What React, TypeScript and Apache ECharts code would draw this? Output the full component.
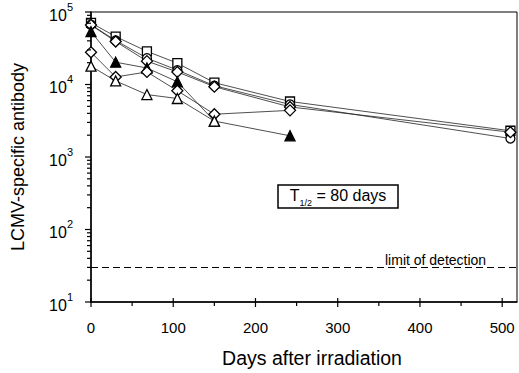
import React, { useEffect, useRef } from 'react';
import * as echarts from 'echarts';

const days = [0, 30, 68, 105, 150, 242, 510];
const openSquare = [71000, 45800, 28700, 19700, 10600, 5830, 2300];
const openCircle = [66700, 40400, 23100, 15800, 9620, 5310, 1800];
const openDiamondHigh = [66000, 39200, 21000, 14900, 9330, 4900, 2200];
const filledTriangle = [53500, 20300, 16900, 10900, 3130, 1960];
const openDiamondLow = [27800, 12700, 14900, 8220, 3890, 4400];
const openTriangle = [17900, 11200, 7260, 6410, 3130];
const detectionLimit = 30;

const xMajorTicks = [0, 100, 200, 300, 400, 500];
const xMinorTicks = [50, 150, 250, 350, 450];
const yMajorTicks = [10, 100, 1000, 10000, 100000];
const yMantissas = [2, 3, 4, 5, 6, 7, 8, 9];
const yDecades = [10, 100, 1000, 10000];

const FONT = '"Liberation Sans", Arial, Helvetica, sans-serif';

function zip(vals: number[]) {
  return vals.map((v, i) => [days[i], v]);
}

function mkSeries(name: string, vals: number[], symbol: string, size: number, filled: boolean) {
  return {
    name,
    type: 'line',
    data: zip(vals),
    symbol,
    symbolSize: size,
    showAllSymbol: true,
    z: 3,
    lineStyle: { color: '#222', width: 0.8 },
    itemStyle: { color: filled ? '#000' : '#fff', borderColor: '#000', borderWidth: 1.3 },
    emphasis: { disabled: true },
  };
}

function tickSeries(data: number[][], kind: 'xMajor' | 'xMinor' | 'yMajor' | 'yMinor') {
  return {
    type: 'custom',
    silent: true,
    clip: false,
    z: 6,
    data,
    encode: { x: 0, y: 1 },
    renderItem: (_params: any, api: any) => {
      const p = api.coord([api.value(0), api.value(1)]);
      let shape;
      if (kind === 'xMajor') shape = { x1: p[0], y1: p[1] - 4, x2: p[0], y2: p[1] + 5 };
      else if (kind === 'xMinor') shape = { x1: p[0], y1: p[1], x2: p[0], y2: p[1] + 4 };
      else if (kind === 'yMajor') shape = { x1: p[0] - 6, y1: p[1], x2: p[0], y2: p[1] };
      else shape = { x1: p[0] - 4, y1: p[1], x2: p[0], y2: p[1] };
      return { type: 'line', shape, style: { stroke: '#000', lineWidth: 1.2 } };
    },
  };
}

export default function App() {
  const ref = useRef<HTMLDivElement>(null);
  useEffect(() => {
    const chart = echarts.init(ref.current!, null, { renderer: 'svg' });
    const yMinor: number[][] = [];
    yDecades.forEach((d) => yMantissas.forEach((m) => yMinor.push([0, d * m])));
    const option: any = {
      animation: false,
      backgroundColor: '#fff',
      textStyle: { fontFamily: FONT },
      grid: { left: 91, right: 2, top: 12, bottom: 66, show: true, borderColor: '#000', borderWidth: 1 },
      xAxis: {
        type: 'value',
        min: 0,
        max: 518,
        interval: 100,
        name: 'Days after irradiation',
        nameLocation: 'middle',
        nameGap: 46,
        nameTextStyle: { fontSize: 19.5, color: '#000', fontFamily: FONT, padding: [0, 0, 0, 16] },
        axisLine: { lineStyle: { color: '#000', width: 1.5 } },
        axisTick: { show: false },
        splitLine: { show: false },
        axisLabel: { color: '#000', fontSize: 15, margin: 18, fontFamily: FONT, showMaxLabel: false },
      },
      yAxis: {
        type: 'log',
        logBase: 10,
        min: 10,
        max: 100000,
        name: 'LCMV-specific antibody',
        nameLocation: 'middle',
        nameGap: 64,
        nameTextStyle: { fontSize: 18, color: '#000', fontFamily: FONT },
        axisLine: { show: true, lineStyle: { color: '#000', width: 1.5 } },
        axisTick: { show: false },
        splitLine: { show: false },
        axisLabel: {
          margin: 18,
          formatter: (v: number) => `{b|10}{s|${Math.round(Math.log10(v))}}`,
          rich: {
            b: { fontSize: 16, color: '#000', fontFamily: FONT, padding: [6, 0, 0, 0] },
            s: { fontSize: 11, color: '#000', fontFamily: FONT, verticalAlign: 'top' },
          },
        },
      },
      series: [
        mkSeries('square', openSquare, 'rect', 9, false),
        mkSeries('circle', openCircle, 'circle', 9, false),
        mkSeries('diamondHigh', openDiamondHigh, 'diamond', 11, false),
        mkSeries('filledTriangle', filledTriangle, 'triangle', 10, true),
        mkSeries('diamondLow', openDiamondLow, 'diamond', 11, false),
        mkSeries('openTriangle', openTriangle, 'triangle', 10, false),
        {
          type: 'line',
          data: [],
          markLine: {
            silent: true,
            symbol: 'none',
            label: { show: false },
            lineStyle: { color: '#000', type: [7, 4], width: 1.2 },
            data: [{ yAxis: detectionLimit }],
          },
        },
        tickSeries(xMajorTicks.map((d) => [d, 10]), 'xMajor'),
        tickSeries(xMinorTicks.map((d) => [d, 10]), 'xMinor'),
        tickSeries(yMajorTicks.map((v) => [0, v]), 'yMajor'),
        tickSeries(yMinor, 'yMinor'),
      ],
      graphic: [
        {
          type: 'text',
          left: 385,
          top: 253,
          style: { text: 'limit of detection', fontSize: 14, fill: '#000', fontFamily: FONT },
        },
        {
          type: 'rect',
          shape: { x: 278, y: 185, width: 120, height: 23 },
          style: { fill: '#fff', stroke: '#000', lineWidth: 1.5 },
        },
        {
          type: 'text',
          x: 338,
          y: 197,
          style: {
            text: '{t|T}{s|1/2}{t| = 80 days}',
            align: 'center',
            verticalAlign: 'middle',
            fontFamily: FONT,
            rich: {
              t: { fontSize: 16, fill: '#000', fontFamily: FONT, padding: [0, 0, 4, 0] },
              s: { fontSize: 9, fill: '#000', fontFamily: FONT, verticalAlign: 'bottom' },
            },
          },
        },
      ],
    };
    chart.setOption(option);
    return () => chart.dispose();
  }, []);
  return <div ref={ref} style={{ position: 'fixed', left: 0, top: 0, width: 519, height: 373 }} />;
}
